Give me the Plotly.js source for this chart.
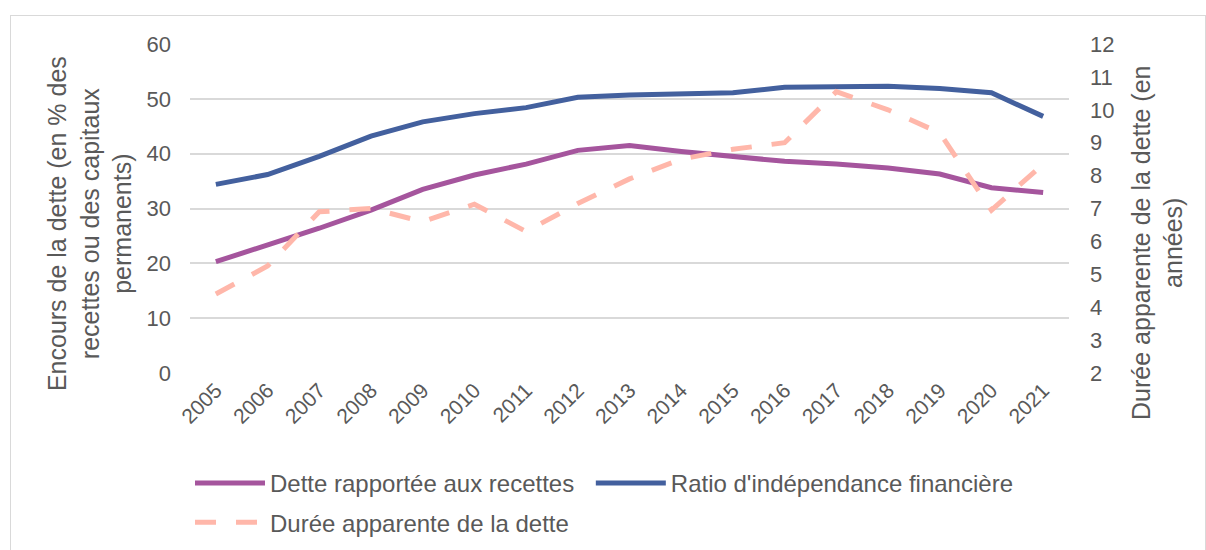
<!DOCTYPE html>
<html>
<head>
<meta charset="utf-8">
<script src="https://cdn.plot.ly/plotly-3.0.1.min.js"></script>
<style>
  body { margin: 0; background: #fff; }
  #wrap { position: relative; width: 1206px; height: 550px; }
  #chart { width: 1206px; height: 550px; }
  /* thin frame round the chart area, like the spreadsheet export */
  #frame { position: absolute; left: 10px; top: 15px; width: 1194px; height: 540px;
           border: 1px solid #d9d9d9; pointer-events: none; }
</style>
</head>
<body>
<div id="wrap">
  <div id="chart"></div>
  <div id="frame"></div>
</div>
<script>
// years on the x axis
const years = ['2005','2006','2007','2008','2009','2010','2011','2012','2013',
               '2014','2015','2016','2017','2018','2019','2020','2021'];

// left axis, in %
const dette_recettes = [20.3, 23.3, 26.4, 29.7, 33.5, 36.1, 38.1, 40.6, 41.5,
                        40.4, 39.5, 38.6, 38.1, 37.4, 36.3, 33.8, 32.9];
const ratio_independance = [34.4, 36.2, 39.5, 43.2, 45.8, 47.3, 48.4, 50.3, 50.7,
                            51.0, 51.1, 52.1, 52.2, 52.3, 51.9, 51.1, 46.8];

// right axis, in years
const duree_apparente = [4.4, 5.25, 6.9, 7.0, 6.6, 7.13, 6.3, 7.15, 7.9,
                         8.5, 8.8, 9.0, 10.55, 10.0, 9.3, 6.95, 8.35];

// axis titles (written as annotations so they can sit where the original has them)
const leftTitle = 'Encours de la dette (en % des<br>recettes ou des capitaux<br>permanents)';
const rightTitle = 'Durée apparente de la dette (en<br>années)';

const textColor = '#595959';
const purple = 'rgb(165, 85, 157)';
const blue = 'rgb(67, 96, 158)';
const pink = 'rgb(255, 183, 170)';

// purple + dashed go in the first legend (one under the other),
// blue sits alone in legend2 to the right of the purple one
const trace_dette = {x: years, y: dette_recettes, yaxis: 'y',
                     type: 'scatter', mode: 'lines',
                     line: {color: purple, width: 5},
                     legend: 'legend', legendgroup: 'a',
                     name: 'Dette rapportée aux recettes'};
const trace_ratio = {x: years, y: ratio_independance, yaxis: 'y',
                     type: 'scatter', mode: 'lines',
                     line: {color: blue, width: 5},
                     legend: 'legend2',
                     name: "Ratio d'indépendance financière"};
const trace_duree = {x: years, y: duree_apparente, yaxis: 'y2',
                     type: 'scatter', mode: 'lines',
                     line: {color: pink, width: 5, dash: '21px,20px'},
                     legend: 'legend', legendgroup: 'b',
                     name: 'Durée apparente de la dette'};

const legendFont = {size: 24, color: textColor};

const layout = {
    width: 1206, height: 550,
    margin: {l: 190, r: 137, t: 44, b: 177},
    paper_bgcolor: 'rgba(0,0,0,0)',
    plot_bgcolor: 'rgba(0,0,0,0)',
    font: {family: 'Liberation Sans, Arial, sans-serif', color: textColor, size: 22},
    showlegend: true,
    legend: {orientation: 'v', x: 0, xanchor: 'left', yref: 'container', y: 0.162, yanchor: 'top',
             itemwidth: 70, tracegroupgap: 5, traceorder: 'grouped',
             font: legendFont},
    legend2: {orientation: 'v', x: 0.456, xanchor: 'left', yref: 'container', y: 0.162, yanchor: 'top',
              itemwidth: 70, font: legendFont},
    xaxis: {type: 'category', range: [-0.5, 16.5], tickangle: -45, automargin: false,
            showgrid: false, zeroline: false, showline: false,
            tickfont: {size: 21, color: textColor}},
    yaxis: {range: [0, 60], dtick: 10, showgrid: true, gridcolor: '#d9d9d9', gridwidth: 1.5,
            zeroline: false, showline: false, ticklabelstandoff: 18, automargin: false,
            tickfont: {size: 22, color: textColor}},
    yaxis2: {range: [2, 12], dtick: 1, overlaying: 'y', side: 'right', automargin: false,
             showgrid: false, zeroline: false, showline: false, ticklabelstandoff: 20,
             tickfont: {size: 22, color: textColor}},
    annotations: [
        {text: leftTitle, xref: 'paper', yref: 'paper', x: -0.114, y: 0.455,
         xanchor: 'center', yanchor: 'middle', textangle: -90, showarrow: false,
         font: {size: 25, color: textColor}},
        {text: rightTitle, xref: 'paper', yref: 'paper', x: 1.1, y: 0.395,
         xanchor: 'center', yanchor: 'middle', textangle: -90, showarrow: false,
         font: {size: 25, color: textColor}}
    ]
};

Plotly.newPlot('chart', [trace_dette, trace_ratio, trace_duree], layout, {displayModeBar: false});
</script>
</body>
</html>
